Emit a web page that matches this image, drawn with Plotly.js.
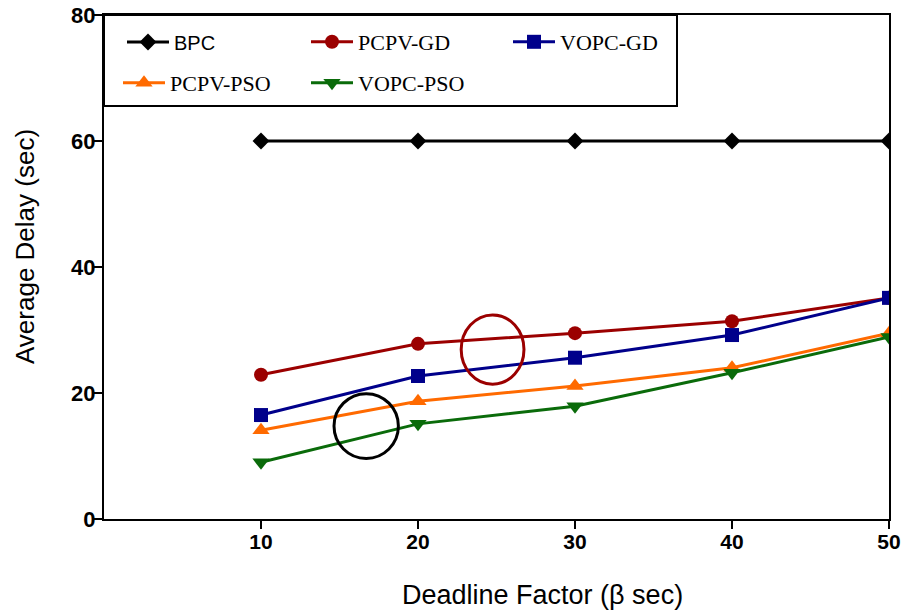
<!DOCTYPE html>
<html><head><meta charset="utf-8">
<script src="https://cdn.plot.ly/plotly-3.0.1.min.js"></script>
<style>html,body{margin:0;padding:0;background:#fff}#chart{width:904px;height:612px}</style>
</head><body><div id="chart"></div>
<script>
const deadline = [10, 20, 30, 40, 50];
const bpc = [60, 60, 60, 60, 60];
const pcpvGD = [22.9, 27.8, 29.5, 31.4, 35.1];
const vopcGD = [16.5, 22.7, 25.6, 29.2, 35.1];
const pcpvPSO = [14.1, 18.7, 21.1, 24.0, 29.5];
const vopcPSO = [9.0, 15.1, 17.9, 23.2, 28.9];
const yTicks = [0, 20, 40, 60, 80];
const xTicks = [10, 20, 30, 40, 50];
// highlight circles [x0, x1, y0, y1] in data units
const blackCircle = [14.65, 18.75, 9.6, 19.9];
const redCircle = [22.75, 26.75, 21.4, 32.4];

function tr(name, y, color, symbol, size, legend) {
  return {x: deadline, y: y, name: name, type: 'scatter', mode: 'lines+markers',
    line: {color: color, width: 3}, marker: {color: color, symbol: symbol, size: size},
    legend: legend, showlegend: true};
}
const L = 104, R = 889, T = 15, B = 519;
const PX = px => (px - L) / (R - L);
const PY = py => (B - py) / (B - T);
const serif = {family: 'Liberation Serif, Times New Roman, serif', size: 22, color: '#000'};
const sans = {family: 'Liberation Sans, Arial, sans-serif', size: 20, color: '#000'};
function leg(px, py, font) {
  return {x: PX(px), y: PY(py), xanchor: 'left', yanchor: 'middle', bgcolor: 'rgba(0,0,0,0)',
    borderwidth: 0, font: font, orientation: 'h', itemwidth: 42};
}
const data = [
  tr('BPC', bpc, '#000000', 'diamond', 13, 'legend'),
  tr('PCPV-GD', pcpvGD, '#9b0000', 'circle', 14, 'legend2'),
  tr('VOPC-GD', vopcGD, '#00008b', 'square', 14, 'legend3'),
  tr('PCPV-PSO', pcpvPSO, '#ff6a00', 'triangle-up', 15, 'legend4'),
  tr('VOPC-PSO', vopcPSO, '#0a6b0a', 'triangle-down', 15, 'legend5')
];
const titleFont = {family: 'Liberation Sans, Arial, sans-serif', size: 27, color: '#000'};
const layout = {
  width: 904, height: 612,
  margin: {l: L, r: 904 - R, t: T, b: 612 - B},
  paper_bgcolor: '#fff', plot_bgcolor: '#fff',
  xaxis: {range: [0, 50], tickvals: xTicks, ticktext: xTicks.map(String),
    showline: true, linecolor: '#000', linewidth: 2, mirror: true,
    ticks: 'outside', ticklen: 8, tickwidth: 2, tickcolor: '#000', showgrid: false, zeroline: false,
    ticklabelstandoff: -5,
    tickfont: {family: 'Liberation Sans, Arial, sans-serif', size: 21, color: '#000', weight: 'bold'}},
  yaxis: {range: [0, 80], tickvals: yTicks, ticktext: yTicks.map(String),
    showline: true, linecolor: '#000', linewidth: 2, mirror: true,
    ticks: 'outside', ticklen: 8, tickwidth: 2, tickcolor: '#000', showgrid: false, zeroline: false,
    ticklabelstandoff: -6,
    tickfont: {family: 'Liberation Sans, Arial, sans-serif', size: 22, color: '#000', weight: 'bold'}},
  legend: leg(122, 42, sans),
  legend2: leg(306, 42, serif),
  legend3: leg(508, 42, serif),
  legend4: leg(118, 83, serif),
  legend5: leg(306, 83, serif),
  annotations: [
    {text: 'Deadline Factor (β sec)', xref: 'paper', yref: 'paper', x: PX(542), y: PY(595),
      xanchor: 'center', yanchor: 'middle', showarrow: false, font: titleFont},
    {text: 'Average Delay (sec)', xref: 'paper', yref: 'paper', x: PX(25), y: PY(247),
      xanchor: 'center', yanchor: 'middle', textangle: -90, showarrow: false,
      font: {family: 'Liberation Sans, Arial, sans-serif', size: 26, color: '#000'}}
  ],
  shapes: [
    {type: 'rect', xref: 'paper', yref: 'paper', x0: 0, x1: PX(677), y0: PY(106), y1: 1,
      line: {color: '#000', width: 2}, fillcolor: 'rgba(0,0,0,0)'},
    {type: 'circle', xref: 'x', yref: 'y', x0: blackCircle[0], x1: blackCircle[1], y0: blackCircle[2], y1: blackCircle[3],
      line: {color: '#000', width: 3}},
    {type: 'circle', xref: 'x', yref: 'y', x0: redCircle[0], x1: redCircle[1], y0: redCircle[2], y1: redCircle[3],
      line: {color: '#9b0000', width: 3}}
  ]
};
Plotly.newPlot('chart', data, layout, {displayModeBar: false, staticPlot: true});
</script></body></html>
